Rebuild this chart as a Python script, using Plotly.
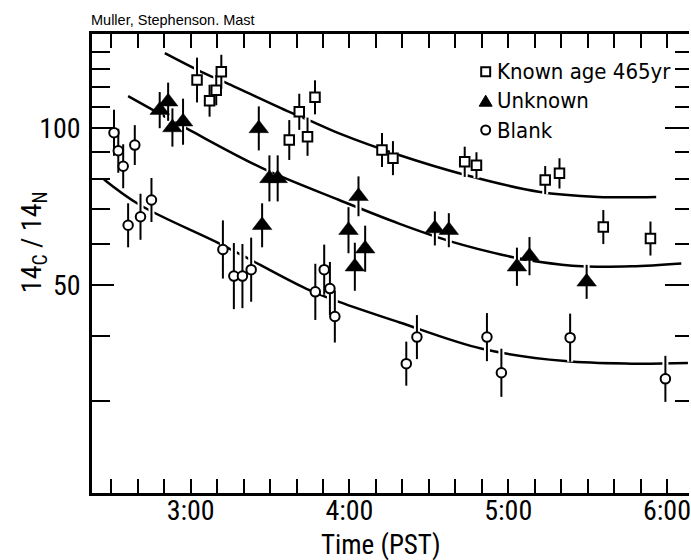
import math
import plotly.graph_objects as go

# ---------------- data ----------------
# time in decimal hours (PST), value = 14C/14N ratio, err = +/- percent
known_t = [3.040, 3.119, 3.161, 3.193, 3.621, 3.684, 3.736, 3.783, 4.205, 4.274,
           4.726, 4.800, 5.233, 5.323, 5.599, 5.896]
known_v = [123.8, 113.0, 118.4, 128.4, 95.0, 107.6, 96.4, 114.7, 90.9, 87.7,
           86.3, 85.0, 79.6, 82.0, 64.7, 61.5]
known_err = [10.4, 7.3, 6.9, 7.8, 9.2, 8.3, 8.8, 7.8, 7.8, 7.8,
             6.9, 5.9, 6.4, 6.9, 7.8, 7.8]

unk_t = [2.805, 2.858, 2.885, 2.952, 3.429, 3.450, 3.496, 3.548, 3.994, 4.034,
         4.057, 4.099, 4.538, 4.626, 5.055, 5.134, 5.494]
unk_v = [108.4, 112.5, 100.4, 103.0, 100.0, 65.2, 80.2, 80.2, 63.8, 54.3,
         74.1, 58.8, 64.3, 63.8, 54.3, 56.9, 50.8]
unk_err = [8.3, 8.8, 8.8, 10.7, 10.2, 10.2, 10.7, 10.7, 10.7, 11.2,
           9.2, 10.7, 7.8, 7.8, 8.8, 8.8, 7.8]

blank_t = [2.517, 2.544, 2.575, 2.606, 2.648, 2.684, 2.753, 3.203, 3.272, 3.326,
           3.381, 3.785, 3.841, 3.877, 3.908, 4.358, 4.425, 4.866, 4.957, 5.390, 5.990]
blank_v = [98.1, 90.6, 84.6, 65.2, 92.9, 67.7, 72.9, 58.6, 52.1, 52.1,
           53.6, 48.6, 53.6, 49.3, 43.6, 35.4, 39.8, 39.8, 34.0, 39.7, 33.1]
blank_err = [10.7, 10.2, 10.2, 10.2, 9.2, 10.7, 10.2, 13.7, 15.7, 15.2,
             15.2, 13.2, 11.7, 12.5, 12.2, 10.2, 10.2, 11.2, 11.2, 11.2, 10.7]

# fitted curves
known_fit_t = [2.837, 3.067, 3.224, 3.621, 3.766, 3.935, 4.312, 4.731, 5.191, 5.567, 5.932]
known_fit_v = [139.4, 128.4, 122.3, 107.6, 103.0, 97.8, 88.9, 81.4, 75.6, 73.9, 73.9]
unk_fit_t = [2.606, 2.994, 3.454, 3.935, 4.312, 4.647, 5.023, 5.191, 5.463, 5.777, 6.090]
unk_fit_v = [115.3, 99.2, 83.8, 72.9, 65.7, 60.6, 56.7, 55.5, 54.4, 54.4, 55.1]
blank_fit_t = [2.454, 2.680, 3.203, 3.726, 3.935, 4.312, 4.835, 5.358, 5.777, 6.132]
blank_fit_v = [79.8, 71.3, 59.7, 49.3, 46.5, 42.5, 37.8, 35.8, 35.4, 35.5]

x_tickvals = [3, 4, 5, 6]
x_ticktext = ["3:00", "4:00", "5:00", "6:00"]
y_tickvals = [50, 100]
y_minorvals = [30, 40, 60, 70, 80, 90, 110, 120, 130, 140]

legend_labels = ["Known age 465yr", "Unknown", "Blank"]

# ---------------- styling ----------------
COND = "Roboto Condensed, DejaVu Sans Condensed, Liberation Sans, sans-serif"
LEGF = "DejaVu Sans Condensed, Roboto Condensed, Liberation Sans, sans-serif"
PLAIN = "Liberation Sans, Arial, Helvetica, sans-serif"
X_RANGE = [2.3785, 6.1387]
Y_RANGE = [math.log10(20), math.log10(151.7)]


def err_arrays(v, p):
    up = [vi * pi / 100.0 for vi, pi in zip(v, p)]
    dn = [vi * (1 - 1 / (1 + pi / 100.0)) for vi, pi in zip(v, p)]
    return up, dn


fig = go.Figure()

# fitted curves
for ft, fv in [(known_fit_t, known_fit_v), (unk_fit_t, unk_fit_v), (blank_fit_t, blank_fit_v)]:
    fig.add_trace(go.Scatter(x=ft, y=fv, mode="lines",
                             line=dict(color="black", width=2.5, shape="spline", smoothing=1.0),
                             hoverinfo="skip", showlegend=False))

series = [
    (known_t, known_v, known_err, dict(symbol="square", size=9.5, color="white", line=dict(width=2, color="black"))),
    (unk_t, unk_v, unk_err, dict(symbol="triangle-up", size=17, color="black", line=dict(width=0.5, color="black"))),
    (blank_t, blank_v, blank_err, dict(symbol="circle", size=9.5, color="white", line=dict(width=2, color="black"))),
]

# white halos under error bars (they break the curves where they cross)
for t, v, p, m in series:
    up, dn = err_arrays(v, p)
    fig.add_trace(go.Scatter(x=t, y=v, mode="markers", marker=dict(size=1, color="white"),
                             error_y=dict(type="data", symmetric=False, array=up, arrayminus=dn,
                                          color="white", thickness=6, width=0),
                             hoverinfo="skip", showlegend=False))

for t, v, p, m in series:
    up, dn = err_arrays(v, p)
    fig.add_trace(go.Scatter(x=t, y=v, mode="markers", marker=m,
                             error_y=dict(type="data", symmetric=False, array=up, arrayminus=dn,
                                          color="black", thickness=2, width=0),
                             showlegend=False))

# invisible trace that carries the right-hand tick axis
fig.add_trace(go.Scatter(x=known_t[:1], y=known_v[:1], yaxis="y2", mode="markers",
                         marker=dict(opacity=0), hoverinfo="skip", showlegend=False))

# ---------------- legend drawn by hand ----------------
def px_x(px):
    return (px - 92) / 599.0


def px_y(py):
    return (493 - py) / 459.0


shapes = []
lx = 487
rows = [71.7, 100.7, 130]
s = 4.5
shapes.append(dict(type="rect", xref="paper", yref="paper",
                   x0=px_x(lx - s), x1=px_x(lx + s), y0=px_y(rows[0] + s), y1=px_y(rows[0] - s),
                   line=dict(color="black", width=2), fillcolor="white"))
tw, th = 6.5, 5.5
path = "M {:.5f} {:.5f} L {:.5f} {:.5f} L {:.5f} {:.5f} Z".format(
    px_x(lx - tw), px_y(rows[1] + th), px_x(lx + tw), px_y(rows[1] + th), px_x(lx), px_y(rows[1] - th))
shapes.append(dict(type="path", xref="paper", yref="paper", path=path,
                   line=dict(color="black", width=1), fillcolor="black"))
c = 4.5
shapes.append(dict(type="circle", xref="paper", yref="paper",
                   x0=px_x(lx - c), x1=px_x(lx + c), y0=px_y(rows[2] + c), y1=px_y(rows[2] - c),
                   line=dict(color="black", width=2), fillcolor="white"))

annotations = []
for lab, ry in zip(legend_labels, rows):
    annotations.append(dict(text=lab, xref="paper", yref="paper", x=px_x(496), y=px_y(ry),
                            xanchor="left", yanchor="middle", showarrow=False,
                            font=dict(family=LEGF, size=22, color="black")))

annotations.append(dict(text="Muller, Stephenson. Mast", xref="paper", yref="paper",
                        x=px_x(89), y=px_y(20), xanchor="left", yanchor="middle", showarrow=False,
                        font=dict(family=PLAIN, size=14.5, color="black")))
annotations.append(dict(text="Time (PST)", xref="paper", yref="paper",
                        x=px_x(382), y=px_y(545), xanchor="center", yanchor="middle", showarrow=False,
                        font=dict(family=COND, size=27, color="black")))
annotations.append(dict(text="14<sub>C</sub> / 14<sub>N</sub>", xref="paper", yref="paper",
                        x=px_x(33), y=px_y(242), xanchor="center", yanchor="middle", showarrow=False,
                        textangle=-90, font=dict(family=COND, size=28, color="black")))

fig.update_layout(
    width=691, height=560,
    margin=dict(l=92, r=0, t=34, b=67),
    paper_bgcolor="white", plot_bgcolor="white",
    shapes=shapes, annotations=annotations,
    showlegend=False,
    xaxis=dict(range=X_RANGE, tickvals=x_tickvals, ticktext=x_ticktext,
               ticks="inside", ticklen=14, tickwidth=2, tickcolor="black",
               showline=True, linewidth=2.5, linecolor="black", mirror="allticks",
               showgrid=False, zeroline=False, ticklabeloverflow="allow", ticklabelstandoff=-9,
               tickfont=dict(family=COND, size=28, color="black"),
               minor=dict(tick0=2.5, dtick=1 / 6.0, ticks="inside", ticklen=14, tickwidth=2,
                          tickcolor="black", showgrid=False)),
    yaxis=dict(type="log", range=Y_RANGE, tickvals=y_tickvals, ticktext=[str(v) for v in y_tickvals],
               ticks="inside", ticklen=22, tickwidth=2, tickcolor="black",
               showline=True, linewidth=2.5, linecolor="black", mirror=False,
               showgrid=False, zeroline=False, ticklabelstandoff=3,
               tickfont=dict(family=COND, size=28, color="black"),
               minor=dict(tickvals=y_minorvals, ticks="inside", ticklen=18, tickwidth=2,
                          tickcolor="black", showgrid=False)),
    yaxis2=dict(type="log", range=Y_RANGE, overlaying="y", side="right", tickvals=y_tickvals,
                showticklabels=False, ticks="inside", ticklen=24, tickwidth=2, tickcolor="black",
                showline=False, showgrid=False, zeroline=False,
                minor=dict(tickvals=y_minorvals, ticks="inside", ticklen=14, tickwidth=2,
                           tickcolor="black", showgrid=False)),
)

# the page's default 8px body margin would shift the figure; remove it
fig.write_html("out.html", config={"displayModeBar": False},
               post_script="document.body.style.margin='0px';document.body.style.overflow='hidden';")
